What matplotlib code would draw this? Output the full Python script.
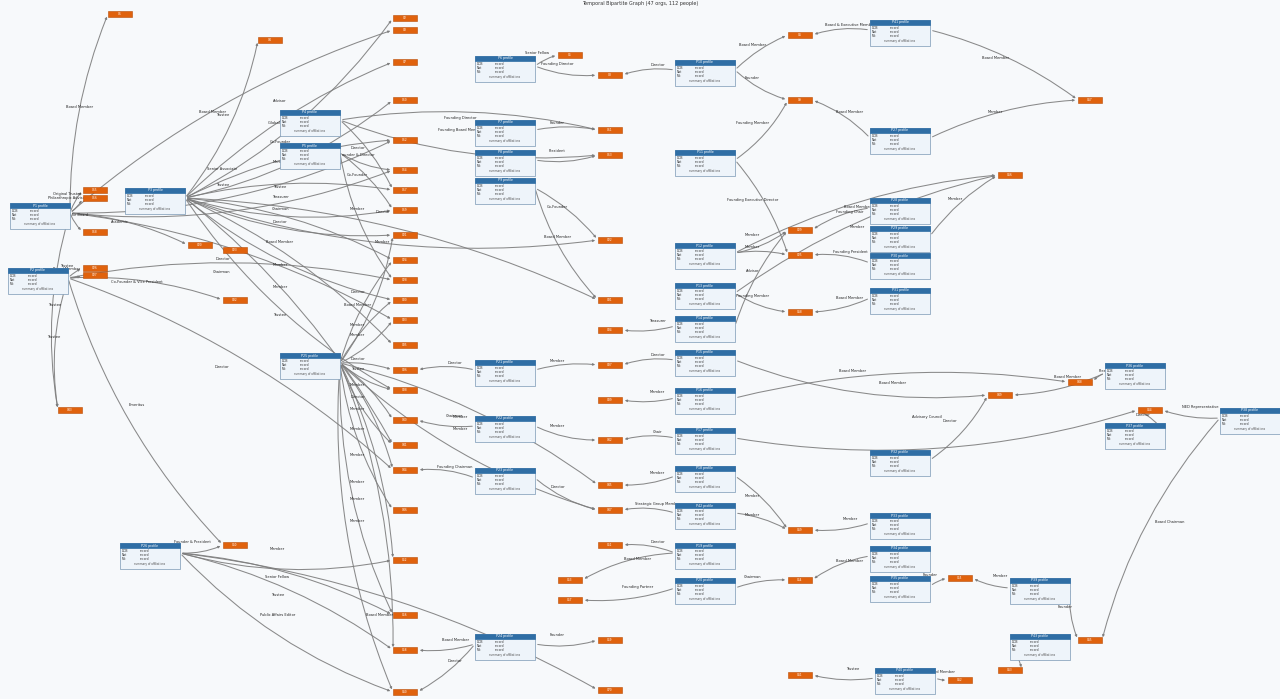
import matplotlib
matplotlib.use("Agg")
import matplotlib.pyplot as plt
from matplotlib.patches import FancyArrowPatch, Rectangle

title = "Temporal Bipartite Graph (47 orgs, 112 people)"

people = {
 "P1": (40, 205), "P2": (38, 270), "P3": (155, 190), "P4": (310, 112), "P5": (310, 145),
 "P6": (505, 58), "P7": (505, 122), "P8": (505, 152), "P9": (505, 180), "P10": (705, 62),
 "P11": (705, 152), "P12": (705, 245), "P13": (705, 285), "P14": (705, 318), "P15": (705, 352),
 "P16": (705, 390), "P17": (705, 430), "P18": (705, 468), "P19": (705, 545), "P20": (705, 580),
 "P21": (505, 362), "P22": (505, 418), "P23": (505, 470), "P24": (505, 636), "P25": (310, 355),
 "P26": (150, 545), "P27": (900, 130), "P28": (900, 200), "P29": (900, 228), "P30": (900, 255),
 "P31": (900, 290), "P32": (900, 452), "P33": (900, 515), "P34": (900, 548), "P35": (900, 578),
 "P36": (1135, 365), "P37": (1135, 425), "P38": (1250, 410), "P39": (1040, 580), "P40": (905, 670),
 "P41": (900, 22), "P42": (705, 505), "P43": (1040, 636),
}
orgs = {
 "O1": (120, 14), "O2": (405, 18), "O3": (405, 30), "O4": (270, 40), "O5": (570, 55),
 "O6": (800, 35), "O7": (405, 62), "O8": (610, 75), "O9": (800, 100), "O10": (405, 100),
 "O11": (610, 130), "O12": (405, 140), "O13": (610, 155), "O14": (405, 170), "O15": (95, 190),
 "O16": (95, 198), "O17": (405, 190), "O18": (95, 232), "O19": (405, 210), "O20": (200, 245),
 "O21": (405, 235), "O22": (610, 240), "O23": (235, 250), "O24": (405, 260), "O25": (800, 255),
 "O26": (95, 268), "O27": (95, 275), "O28": (405, 280), "O29": (800, 230), "O30": (405, 300),
 "O31": (610, 300), "O32": (235, 300), "O33": (405, 320), "O34": (610, 330), "O35": (405, 345),
 "O36": (405, 370), "O37": (610, 365), "O38": (405, 390), "O39": (610, 400), "O40": (405, 420),
 "O41": (405, 445), "O42": (610, 440), "O43": (70, 410), "O44": (405, 470), "O45": (610, 485),
 "O46": (405, 510), "O47": (610, 510), "O48": (1080, 382), "O49": (1000, 395), "O50": (235, 545),
 "O51": (610, 545), "O52": (405, 560), "O53": (570, 580), "O54": (800, 580), "O55": (960, 578),
 "O56": (405, 615), "O57": (570, 600), "O58": (405, 650), "O59": (610, 640), "O60": (405, 692),
 "O61": (800, 675), "O62": (960, 680), "O63": (1010, 670), "O64": (1150, 410), "O65": (1090, 640),
 "O66": (1010, 175), "O67": (1090, 100), "O68": (800, 312), "O69": (800, 530), "O70": (610, 690),
}
edges = [
 ("P1","O15","Original Trustee"),("P1","O16","Philanthropic Advisor"),("P1","O3","Trustee"),
 ("P1","O18","Chairman of the Board"),("P1","O20","Academic"),("P1","O14","Trustee"),("P1","O1","Board Member"),
 ("P1","O43","Trustee"),("P1","O33","Director"),("P1","O12","Senior Associate"),
 ("P2","O26","Trustee"),("P2","O27","Board Member"),("P2","O32","Co-Founder & Vice President"),
 ("P2","O43","Trustee"),("P2","O44","Director"),("P2","O50","Emeritus"),("P2","O28","Chairman"),
 ("P3","O2","Advisor"),("P3","O7","Global Fellow"),("P3","O10","Co-Founder"),("P3","O17","Trustee"),
 ("P3","O21","Chairman"),("P3","O24","Director"),("P3","O30","Board Member"),("P3","O35","Member"),
 ("P3","O38","Member"),("P3","O41","Trustee"),("P3","O4","Board Member"),("P3","O12","Member"),
 ("P3","O19","Treasurer"),("P3","O31","Member"),("P3","O22","Director"),
 ("P4","O11","Founding Director"),("P4","O13","Founding Board Member"),("P4","O17","Director"),
 ("P5","O14","Founder & Director"),("P5","O19","Co-Founder"),("P5","O28","Member"),
 ("P6","O5","Senior Fellow"),("P6","O8","Founding Director"),("P7","O11","Founder"),
 ("P8","O13","President"),("P9","O22","Co-Founder"),("P9","O31","Board Member"),
 ("P10","O6","Board Member"),("P10","O9","Founder"),("P11","O25","Founding Executive Director"),
 ("P12","O29","Member"),("P12","O25","Member"),("P13","O68","Founding Member"),("P14","O34","Treasurer"),
 ("P15","O37","Director"),("P16","O39","Member"),("P17","O42","Chair"),("P18","O45","Member"),
 ("P19","O51","Director"),("P20","O54","Chairman"),("P21","O36","Director"),("P22","O40","Chairman"),
 ("P23","O44","Founding Chairman"),("P24","O58","Board Member"),("P24","O59","Founder"),("P24","O60","Director"),
 ("P25","O33","Member"),("P25","O36","Director"),("P25","O38","Trustee"),("P25","O40","Member"),
 ("P25","O41","Director"),("P25","O44","Member"),("P25","O46","Member"),("P25","O52","Member"),
 ("P25","O56","Member"),("P25","O58","Member"),("P25","O60","Member"),("P25","O24","Board Member"),
 ("P25","O21","Director"),("P25","O30","Member"),("P25","O47","Member"),("P25","O45","Member"),
 ("P26","O50","Founder & President"),("P26","O56","Senior Fellow"),("P26","O60","Public Affairs Editor"),
 ("P26","O58","Trustee"),("P26","O52","Member"),("P26","O70","Board Member"),
 ("P27","O9","Board Member"),("P27","O67","Member"),("P28","O29","Founding Chair"),("P29","O66","Member"),
 ("P30","O25","Founding President"),("P31","O68","Board Member"),("P32","O49","Director"),
 ("P33","O69","Member"),("P34","O54","Board Member"),("P35","O55","Founder"),("P36","O48","President"),
 ("P36","O49","Board Member"),("P37","O64","Director"),("P38","O64","NED Representative"),
 ("P38","O65","Board Chairman"),("P39","O55","Member"),("P39","O65","Founder"),("P40","O61","Trustee"),
 ("P40","O62","Founding Board Member"),("P43","O63","President"),("P41","O6","Board & Executive Member"),
 ("P41","O67","Board Member"),("P42","O47","Strategic Group Member"),("P42","O69","Member"),
 ("P19","O53","Board Member"),("P20","O57","Founding Partner"),("P23","O47","Director"),
 ("P21","O37","Member"),("P22","O42","Member"),("P16","O48","Board Member"),("P17","O64","Advisory Council"),
 ("P18","O69","Member"),("P15","O49","Board Member"),("P13","O66","Member"),("P11","O9","Founding Member"),
 ("P12","O66","Board Member"),("P10","O8","Director"),("P14","O29","Advisor"),
]

plt.rcParams['font.family'] = ['DejaVu Sans']
fig = plt.figure(figsize=(12.8, 6.99), dpi=100, facecolor="#f7f9fb")
ax = fig.add_axes([0, 0, 1, 1])
ax.set_xlim(0, 1280); ax.set_ylim(699, 0); ax.axis("off")
ax.set_facecolor("#f7f9fb")
ax.text(640, 4, title, ha="center", va="center", fontsize=3.5, color="#333")

CW, CH = 60, 26
for i, (p, o, role) in enumerate(edges):
    px, py = people[p]; ox, oy = orgs[o]
    rad = 0.12 if i % 2 else -0.1
    ar = FancyArrowPatch((px + (CW/2 if ox > px else -CW/2), py + 8), (ox - 12 if ox > px else ox + 12, oy),
                         connectionstyle=f"arc3,rad={rad}", arrowstyle="-|>", mutation_scale=3,
                         color="#7d7d7d", lw=0.75, alpha=0.9, zorder=1)
    ax.add_patch(ar)
    mx, my = (px + ox) / 2, (py + oy) / 2 - 3
    ax.text(mx, my, role, fontsize=2.6, ha="center", va="center", color="#222", zorder=2)

for name, (x, y) in people.items():
    ax.add_patch(Rectangle((x - CW/2, y - 2), CW, CH, fc="#eef4fa", ec="#7a98b5", lw=0.5, zorder=3))
    ax.add_patch(Rectangle((x - CW/2, y - 2), CW, 5, fc="#2f6ea5", ec="#2f6ea5", lw=0.5, zorder=4))
    ax.text(x, y + 0.5, name + " profile", fontsize=2.3, color="white", ha="center", va="center", zorder=5)
    for k, lab in enumerate(["DOB", "Nat", "Mb"]):
        ax.text(x - CW/2 + 2, y + 6 + k * 4, lab, fontsize=2.2, va="center", color="#333", zorder=5)
        ax.text(x - CW/2 + 20, y + 6 + k * 4, "record", fontsize=2.2, va="center", color="#333", zorder=5)
    ax.text(x, y + 19, "summary of affiliations", fontsize=2.0, ha="center", va="center", color="#555", zorder=5)

for name, (x, y) in orgs.items():
    ax.add_patch(Rectangle((x - 12, y - 3), 24, 6, fc="#e0620d", ec="#b84d08", lw=0.4, zorder=3))
    ax.text(x, y, name, fontsize=2.0, color="white", ha="center", va="center", zorder=4)

fig.savefig("out.png", dpi=100, facecolor=fig.get_facecolor())
